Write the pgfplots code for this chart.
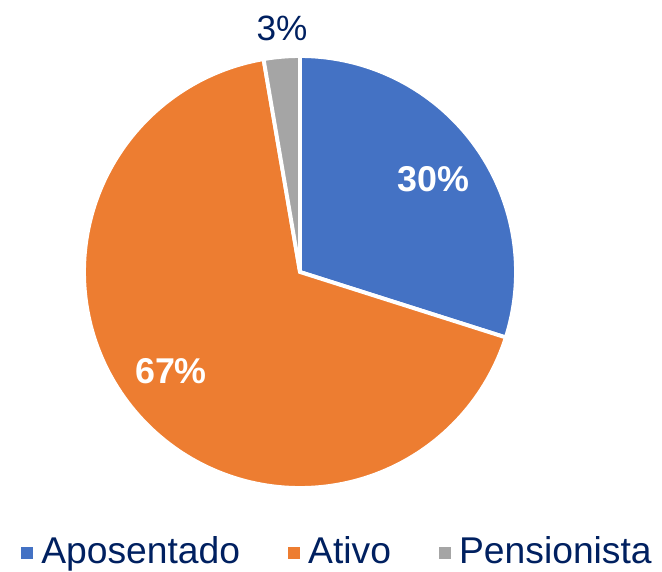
\documentclass[border=0pt]{standalone}
\usepackage{fontspec}
\setmainfont{Liberation Sans}
\usepackage{pgfplots}
\pgfplotsset{compat=1.18}
\definecolor{cblue}{HTML}{4472C4}
\definecolor{corange}{HTML}{ED7D31}
\definecolor{cgray}{HTML}{A5A5A5}
\definecolor{navy}{RGB}{0,32,96}
\begin{document}
\begin{tikzpicture}
\def\vA{29.9}\def\vB{67.4}\def\vC{2.7}
\pgfmathsetmacro\aA{90}
\pgfmathsetmacro\aB{90-3.6*\vA}
\pgfmathsetmacro\aC{\aB-3.6*\vB}
\pgfmathsetmacro\aD{\aC-3.6*\vC}
\begin{axis}[scale only axis, width=6.62cm, height=5.71cm,
  xmin=0, xmax=662, ymin=0, ymax=571, hide axis, clip=false,
  legend style={at={(axis cs:340,18)}, anchor=center, draw=none, fill=none,
    legend columns=3, font=\fontsize{10.6}{12}\selectfont, text=navy,
    /tikz/every even column/.append style={column sep=4.1mm},
    /tikz/every odd column/.append style={column sep=0.1mm}},
  legend image code/.code={\fill[#1, draw=none] (0mm,-0.6mm) rectangle (1.2mm,0.6mm);},
]
\addplot[fill=cblue, draw=white, line width=1.1pt, domain=\aB:\aA, samples=80, variable=\t]
  ({300+216*cos(\t)},{299+216*sin(\t)}) -- (axis cs:300,299) -- cycle;
\addlegendentry{Aposentado}
\addplot[fill=corange, draw=white, line width=1.1pt, domain=\aC:\aB, samples=160, variable=\t]
  ({300+216*cos(\t)},{299+216*sin(\t)}) -- (axis cs:300,299) -- cycle;
\addlegendentry{Ativo}
\addplot[fill=cgray, draw=white, line width=1.1pt, domain=\aD:\aC, samples=20, variable=\t]
  ({300+216*cos(\t)},{299+216*sin(\t)}) -- (axis cs:300,299) -- cycle;
\addlegendentry{Pensionista}
\node[text=white, font=\fontsize{10.2}{12}\selectfont\bfseries] at (axis cs:433,392) {30\%};
\node[text=white, font=\fontsize{10.2}{12}\selectfont\bfseries] at (axis cs:171,200) {67\%};
\node[text=navy, font=\fontsize{10}{12}\selectfont] at (axis cs:282,543) {3\%};
\end{axis}
\pgfresetboundingbox
\path (0,0) rectangle (6.62cm,5.71cm);
\end{tikzpicture}
\end{document}
